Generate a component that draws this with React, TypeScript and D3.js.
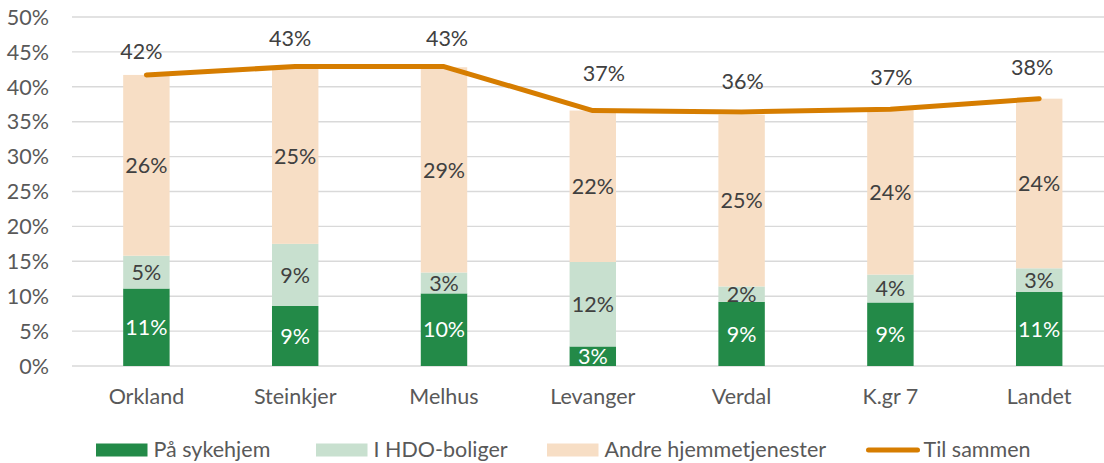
import * as d3 from "d3";
import { useRef, useEffect } from "react";

// kategorier og verdier (prosent)
const categories = ["Orkland", "Steinkjer", "Melhus", "Levanger", "Verdal", "K.gr 7", "Landet"];
const sykehjem = [11.1, 8.6, 10.4, 2.8, 9.2, 9.1, 10.6];
const hdoBoliger = [4.7, 8.9, 3.0, 12.1, 2.2, 4.0, 3.4];
const andre = [25.9, 25.1, 29.4, 21.7, 24.6, 23.7, 24.3];
const tilSammen = [41.7, 42.9, 42.9, 36.6, 36.4, 36.8, 38.3];
const yTicks = [0, 5, 10, 15, 20, 25, 30, 35, 40, 45, 50];

const seriesNames = ["På sykehjem", "I HDO-boliger", "Andre hjemmetjenester", "Til sammen"];

// flytting av "Til sammen"-etikettene (som i Excel-originalen)
const totalLabelNudge = [
  [-5, -16], [-5, -21], [3, -21], [11, -30], [1, -23], [1, -24], [-7, -24],
];

const W = 1104;
const H = 463;
const FONT = "Lato, 'Open Sans', sans-serif";
const FS = 21.5;
const colors = ["#238A48", "#C8E0CF", "#F7DEC5", "#D67D00"];

const App = () => {
  const chartRef = useRef(null);

  useEffect(() => {
    const svg = d3.select(chartRef.current);
    svg.selectAll("*").remove();

    const x = d3.scaleBand()
      .domain(categories)
      .range([72, 1113.6])
      .paddingInner(0.688)
      .paddingOuter(0.344);
    const y = d3.scaleLinear().domain([0, 50]).range([366, 17]);
    const cx = (c) => x(c) + x.bandwidth() / 2;

    // rutenett
    svg.append("g")
      .selectAll("line")
      .data(yTicks)
      .enter()
      .append("line")
      .attr("x1", 72)
      .attr("x2", W)
      .attr("y1", (d) => y(d))
      .attr("y2", (d) => y(d))
      .attr("stroke", "#D9D9D9")
      .attr("stroke-width", 1.4);

    // y-akse
    svg.append("g")
      .selectAll("text")
      .data(yTicks)
      .enter()
      .append("text")
      .attr("x", 49)
      .attr("y", (d) => y(d) + 7.7)
      .attr("text-anchor", "end")
      .attr("font-family", FONT)
      .attr("font-size", FS)
      .attr("fill", "#595959")
      .text((d) => d + "%");

    // x-akse
    svg.append("g")
      .selectAll("text")
      .data(categories)
      .enter()
      .append("text")
      .attr("x", (d) => cx(d))
      .attr("y", 404)
      .attr("text-anchor", "middle")
      .attr("font-family", FONT)
      .attr("font-size", FS)
      .attr("fill", "#595959")
      .text((d) => d);

    // stablede søyler
    const rows = categories.map((c, i) => ({ cat: c, s0: sykehjem[i], s1: hdoBoliger[i], s2: andre[i] }));
    const stack = d3.stack().keys(["s0", "s1", "s2"])(rows);

    stack.forEach((layer, li) => {
      const g = svg.append("g");
      g.selectAll("rect")
        .data(layer)
        .enter()
        .append("rect")
        .attr("x", (d) => x(d.data.cat))
        .attr("y", (d) => y(d[1]))
        .attr("width", x.bandwidth())
        .attr("height", (d) => y(d[0]) - y(d[1]))
        .attr("fill", colors[li]);

      g.selectAll("text")
        .data(layer)
        .enter()
        .append("text")
        .attr("x", (d) => cx(d.data.cat))
        .attr("y", (d) => (y(d[0]) + y(d[1])) / 2 + 7.7)
        .attr("text-anchor", "middle")
        .attr("font-family", FONT)
        .attr("font-size", FS)
        .attr("fill", li === 0 ? "#FFFFFF" : "#404040")
        .text((d) => Math.round(d[1] - d[0]) + "%");
    });

    // linje for til sammen
    const line = d3.line()
      .x((d, i) => cx(categories[i]))
      .y((d) => y(d));
    svg.append("path")
      .datum(tilSammen)
      .attr("d", line)
      .attr("fill", "none")
      .attr("stroke", colors[3])
      .attr("stroke-width", 5)
      .attr("stroke-linecap", "round")
      .attr("stroke-linejoin", "round");

    svg.append("g")
      .selectAll("text")
      .data(tilSammen)
      .enter()
      .append("text")
      .attr("x", (d, i) => cx(categories[i]) + totalLabelNudge[i][0])
      .attr("y", (d, i) => y(d) + totalLabelNudge[i][1])
      .attr("text-anchor", "middle")
      .attr("font-family", FONT)
      .attr("font-size", FS)
      .attr("fill", "#404040")
      .text((d) => Math.round(d) + "%");

    // tegnforklaring
    const legendX = [96, 316, 547, 866];
    const legend = svg.append("g");
    seriesNames.forEach((name, i) => {
      if (i < 3) {
        legend.append("rect")
          .attr("x", legendX[i])
          .attr("y", 443.5)
          .attr("width", 51.5)
          .attr("height", 13)
          .attr("fill", colors[i]);
      } else {
        legend.append("line")
          .attr("x1", legendX[i] + 2.5)
          .attr("x2", legendX[i] + 51.5)
          .attr("y1", 450)
          .attr("y2", 450)
          .attr("stroke", colors[i])
          .attr("stroke-width", 5)
          .attr("stroke-linecap", "round");
      }
      legend.append("text")
        .attr("x", legendX[i] + 57.5)
        .attr("y", 456.5)
        .attr("font-family", FONT)
        .attr("font-size", FS)
        .attr("fill", "#595959")
        .text(name);
    });
  }, []);

  return (
    <svg
      ref={chartRef}
      width={W}
      height={H}
      style={{ position: "absolute", left: 0, top: 0, display: "block", background: "#fff" }}
    ></svg>
  );
};

export default App;
